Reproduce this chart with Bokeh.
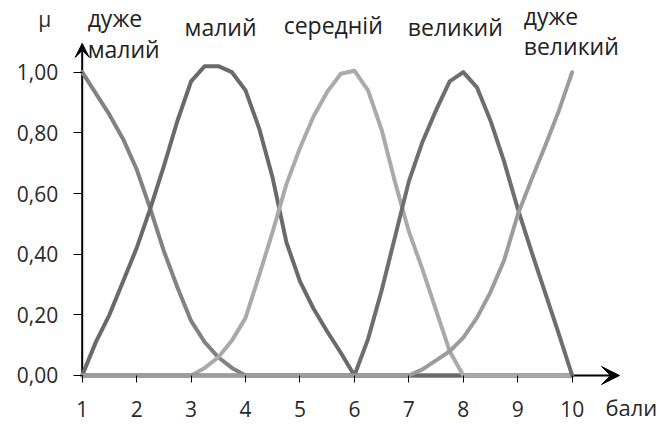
from bokeh.plotting import figure
from bokeh.models import Range1d, FixedTicker, Arrow, VeeHead, ColumnDataSource
from bokeh.core.properties import value
from bokeh.embed import file_html
from bokeh.resources import INLINE

# Membership grades (μ) of the five fuzzy terms over the score scale 1..10
scores = [1.0, 1.25, 1.5, 1.75, 2.0, 2.25, 2.5, 2.75, 3.0, 3.25, 3.5, 3.75,
          4.0, 4.25, 4.5, 4.75, 5.0, 5.25, 5.5, 5.75, 6.0, 6.25, 6.5, 6.75,
          7.0, 7.25, 7.5, 7.75, 8.0, 8.25, 8.5, 8.75, 9.0, 9.25, 9.5, 9.75, 10.0]

very_small = [1.00, 0.93, 0.86, 0.78, 0.68, 0.55, 0.41, 0.29, 0.18, 0.11, 0.06, 0.025,
              0.0, 0, 0, 0, 0, 0, 0, 0, 0, 0, 0, 0,
              0, 0, 0, 0, 0, 0, 0, 0, 0, 0, 0, 0, 0]
small = [0.0, 0.11, 0.20, 0.31, 0.42, 0.55, 0.69, 0.84, 0.97, 1.02, 1.02, 1.00,
         0.94, 0.815, 0.65, 0.44, 0.31, 0.22, 0.145, 0.075, 0.0, 0, 0, 0,
         0, 0, 0, 0, 0, 0, 0, 0, 0, 0, 0, 0, 0]
medium = [0, 0, 0, 0, 0, 0, 0, 0, 0.0, 0.025, 0.06, 0.115,
          0.19, 0.33, 0.475, 0.63, 0.75, 0.855, 0.935, 0.995, 1.005, 0.94, 0.81, 0.635,
          0.475, 0.35, 0.215, 0.08, 0.0, 0, 0, 0, 0, 0, 0, 0, 0]
large = [0, 0, 0, 0, 0, 0, 0, 0, 0, 0, 0, 0,
         0, 0, 0, 0, 0, 0, 0, 0, 0.0, 0.12, 0.28, 0.46,
         0.64, 0.77, 0.875, 0.97, 1.0, 0.95, 0.84, 0.705, 0.55, 0.41, 0.275, 0.14, 0.0]
very_large = [0, 0, 0, 0, 0, 0, 0, 0, 0, 0, 0, 0,
              0, 0, 0, 0, 0, 0, 0, 0, 0, 0, 0, 0,
              0.0, 0.02, 0.05, 0.08, 0.125, 0.19, 0.275, 0.38, 0.53, 0.645, 0.755, 0.87, 1.0]

term_names = ["дуже малий", "малий", "середній", "великий", "дуже великий"]
term_values = [very_small, small, medium, large, very_large]
term_colors = ["#828282", "#6a6a6a", "#aaaaaa", "#6e6e6e", "#9c9c9c"]

x_ticks = [1, 2, 3, 4, 5, 6, 7, 8, 9, 10]
y_ticks = [0.0, 0.2, 0.4, 0.6, 0.8, 1.0]
y_tick_labels = ["0,00", "0,20", "0,40", "0,60", "0,80", "1,00"]
y_axis_name = "μ"
x_axis_name = "бали"

FONT = "Open Sans"

p = figure(width=659, height=425, output_backend="svg", toolbar_location=None,
           x_range=Range1d(-0.5008, 11.604), y_range=Range1d(-0.1649, 1.2364),
           min_border=0, min_border_left=0, min_border_right=0,
           min_border_top=0, min_border_bottom=0)
p.outline_line_color = None
p.background_fill_color = "white"
p.border_fill_color = "white"
p.grid.visible = False

# axes cross at (1, 0), drawn inside the frame
for ax in (p.xaxis[0], p.yaxis[0]):
    ax.axis_line_color = None
    ax.major_tick_line_color = "black"
    ax.major_tick_line_width = 1
    ax.minor_tick_line_color = None
    ax.major_tick_in = 0
    ax.major_label_text_font = FONT
    ax.major_label_text_font_size = "21px"
    ax.major_label_text_color = "#2a2a2a"

p.xaxis.fixed_location = 0
p.yaxis.fixed_location = 1
p.xaxis.ticker = FixedTicker(ticks=x_ticks)
p.yaxis.ticker = FixedTicker(ticks=y_ticks)
p.yaxis.major_label_overrides = {t: s for t, s in zip(y_ticks, y_tick_labels)}
p.xaxis.major_tick_out = 7
p.yaxis.major_tick_out = 9
p.xaxis.major_label_standoff = 19
p.yaxis.major_label_standoff = 15

# axis lines with arrowheads
x_arrow = Arrow(end=VeeHead(size=18, fill_color="black", line_color="black", line_width=1),
                x_start=1, y_start=0, x_end=10.87, y_end=0,
                line_color="black", line_width=2, level="underlay")
y_arrow = Arrow(end=VeeHead(size=14, fill_color="black", line_color="black", line_width=1),
                x_start=1, y_start=0, x_end=1, y_end=1.095,
                line_color="black", line_width=2, level="underlay")
p.add_layout(x_arrow)
p.add_layout(y_arrow)

# membership curves
for name, vals, color in zip(term_names, term_values, term_colors):
    src = ColumnDataSource(dict(x=scores, y=vals))
    p.line("x", "y", source=src, line_color=color, line_width=4,
           line_join="round", line_cap="round")

# term captions above the curves (two-word names wrap onto two lines)
caption_x = [1.10, 2.88, 4.70, 6.98, 9.11]
caption_y = [1.178, 1.148, 1.155, 1.148, 1.184]
caption_gap = [0.102, 0.0, 0.0, 0.0, 0.096]
tx, ty, tt = [], [], []
for name, cx, cy, gap in zip(term_names, caption_x, caption_y, caption_gap):
    for i, word_line in enumerate(name.split(" ")):
        tx.append(cx)
        ty.append(cy - i * gap)
        tt.append(word_line)
p.text(x=tx, y=ty, text=tt, text_font=value(FONT), text_font_size="23px",
       text_color="#222222", text_align="left", text_baseline="alphabetic")

# axis names
p.text(x=[0.31], y=[1.174], text=[y_axis_name], text_font=value(FONT),
       text_font_size="21px", text_color="#2a2a2a", text_align="center",
       text_baseline="alphabetic")
p.text(x=[10.61], y=[-0.105], text=[x_axis_name], text_font=value(FONT),
       text_font_size="22px", text_color="#2a2a2a", text_align="left",
       text_baseline="alphabetic")

open("out.html", "w").write(file_html(p, INLINE))
